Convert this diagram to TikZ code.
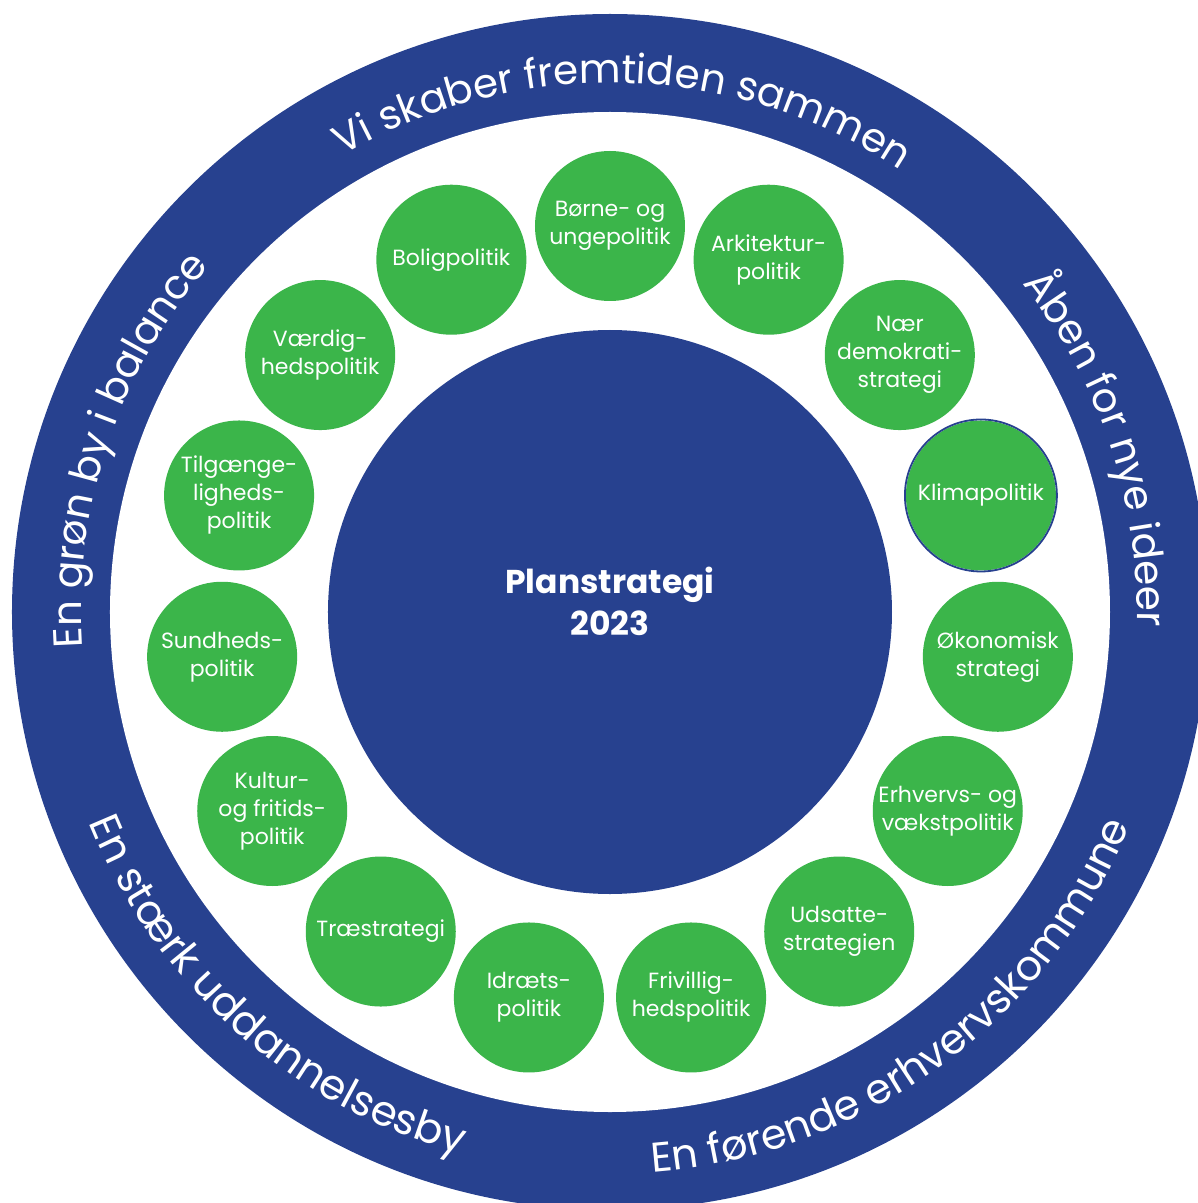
\documentclass[tikz,border=0pt]{standalone}
\usepackage{fontspec}
\setmainfont{Poppins}
\usetikzlibrary{decorations.text}
\definecolor{planblue}{HTML}{27418F}
\definecolor{plangreen}{HTML}{3BB54A}
\tikzset{
  polcircle/.style={circle,fill=plangreen,text=white,minimum size=150pt,inner sep=0pt,align=center,font=\fontsize{22}{28}\selectfont},
  ringtext/.style 2 args={decorate,decoration={text along path,text align=center,text={|\fontsize{#1}{42}\selectfont\color{white}|#2}}}
}
\begin{document}
\begin{tikzpicture}[x=1pt,y=1pt]
	\useasboundingbox (-610,-591) rectangle (588,612);
	\clip (-610,-591) rectangle (588,612);
	% ring
	\fill[planblue] (0,0) circle[radius=598pt];
	\fill[white] (0,0) circle[radius=500pt];
	% centre
	\node[circle,fill=planblue,minimum size=564pt,inner sep=0pt] (centre) at (0,0) {};
	\node[text=white,font=\bfseries\fontsize{33}{42}\selectfont,align=center] (title) at (0,11) {Planstrategi\\2023};
	% policies, clockwise from the top
	\foreach \txt [count=\i from 0] in {{Børne- og\\ungepolitik},{Arkitektur-\\politik},{Nær\\demokrati-\\strategi},{Klimapolitik},{Økonomisk\\strategi},{Erhvervs- og\\vækstpolitik},{Udsatte-\\strategien},{Frivillig-\\hedspolitik},{Idræts-\\politik},{Træstrategi},{Kultur-\\og fritids-\\politik},{Sundheds-\\politik},{Tilgænge-\\ligheds-\\politik},{Værdig-\\hedspolitik},{Boligpolitik}}
		\node[polcircle] (pol\i) at ({390*cos(90-24*\i)},{390*sin(90-24*\i)-4}) {\txt};
	\draw[planblue,line width=1.8pt] (pol3.center) circle[radius=76pt];
	% ring texts
	\path[ringtext={40.5}{Vi skaber fremtiden sammen}] (148.5:529) arc[start angle=148.5,end angle=28.5,radius=529pt];
	\path[ringtext={40.5}{Åben for nye ideer}] (78.5:527) arc[start angle=78.5,end angle=-41.5,radius=527pt];
	\path[ringtext={41.5}{En førende erhvervskommune}] (-114:562) arc[start angle=-114,end angle=6,radius=562pt];
	\path[ringtext={42}{En stærk uddannelsesby}] (168.3:562) arc[start angle=168.3,end angle=288.3,radius=562pt];
	\path[ringtext={40.5}{En grøn by i balance}] (221.5:529) arc[start angle=221.5,end angle=101.5,radius=529pt];
\end{tikzpicture}
\end{document}
